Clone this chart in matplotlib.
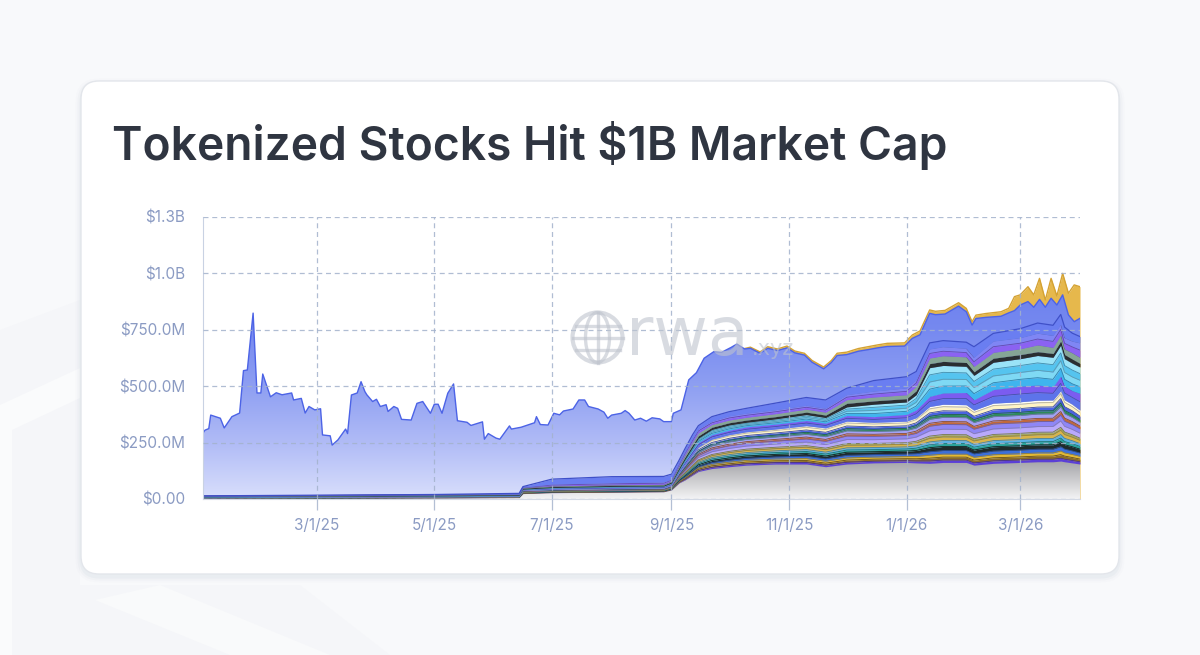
import numpy as np
import pandas as pd
import matplotlib
matplotlib.use("Agg")
import matplotlib.pyplot as plt
import matplotlib.dates as mdates
import matplotlib.colors as mcolors
from matplotlib.patches import FancyBboxPatch, Polygon, Circle, Ellipse
from matplotlib.colors import LinearSegmentedColormap

# ---- data (values in $M, x = days since 2025-01-01) ----
title_text = "Tokenized Stocks Hit $1B Market Cap"
start_date = "2025-01-01"
end_day = 455

y_ticks = [0, 250, 500, 750, 1000, 1250]
y_tick_labels = ["$0.00", "$250.0M", "$500.0M", "$750.0M", "$1.0B", "$1.3B"]
x_tick_dates = ["2025-03-01", "2025-05-01", "2025-07-01", "2025-09-01",
                "2025-11-01", "2026-01-01", "2026-03-01"]
x_tick_labels = ["3/1/25", "5/1/25", "7/1/25", "9/1/25", "11/1/25", "1/1/26", "3/1/26"]

# top of the large blue series
main_days = [0, 1, 3, 4, 9, 11, 15, 19, 21, 23, 26, 28, 30, 31, 35, 38, 41, 46, 47, 51,
             53, 55, 58, 61, 62, 66, 67, 70, 74, 75, 77, 80, 82, 84, 85, 88, 90, 92, 95, 96,
             99, 101, 103, 108, 111, 114, 118, 120, 122, 124, 127, 130, 132, 137, 139, 145,
             146, 148, 152, 154, 159, 160, 165, 172, 173, 175, 179, 182, 185, 187, 192, 195,
             198, 200, 205, 208, 210, 212, 217, 219, 221, 224, 227, 230, 233, 237, 239, 243,
             244, 248, 252, 256, 260, 265, 269, 274, 277, 281, 284, 289, 293, 298, 303, 307,
             312, 316, 322, 326, 329, 334, 340, 345, 350, 355, 364, 368, 372, 377, 380, 385,
             392, 396, 399, 401, 406, 414, 418, 421, 424, 428, 431, 434, 437, 440, 443, 446,
             449, 452, 455]
main_vals = [292, 305, 312, 372, 358, 315, 365, 381, 569, 572, 824, 470, 470, 554, 453, 471,
             462, 470, 439, 446, 381, 410, 395, 400, 284, 280, 239, 262, 310, 290, 461, 470,
             520, 476, 462, 432, 442, 410, 418, 388, 410, 402, 353, 350, 424, 432, 380, 420,
             420, 380, 469, 510, 347, 340, 326, 342, 265, 290, 270, 265, 324, 310, 318, 338,
             365, 330, 328, 380, 373, 390, 399, 439, 439, 410, 399, 385, 358, 372, 380, 392,
             380, 350, 358, 345, 360, 355, 343, 343, 380, 395, 528, 560, 624, 653, 650, 672,
             687, 665, 668, 646, 668, 658, 670, 648, 638, 606, 577, 605, 636, 640, 655, 662,
             670, 676, 678, 712, 728, 823, 817, 820, 855, 830, 771, 800, 805, 810, 825, 835,
             860, 875, 850, 885, 850, 890, 860, 905, 816, 786, 801]

# top of the gold series (total)
gold_days = [281, 284, 289, 293, 298, 303, 307, 312, 316, 322, 326, 329, 334, 340, 345, 350,
             355, 364, 368, 372, 377, 380, 385, 392, 396, 399, 401, 406, 414, 418, 421, 424,
             428, 431, 434, 437, 440, 443, 446, 449, 452, 455]
gold_vals = [667, 673, 652, 675, 665, 678, 656, 646, 614, 585, 614, 646, 651, 667, 675, 683,
             690, 692, 727, 745, 838, 832, 836, 870, 845, 786, 815, 822, 830, 845, 897, 905,
             941, 905, 978, 882, 978, 900, 1000, 912, 949, 941]

# cumulative tops of the smaller tokens
lower_days = [0, 59, 120, 164, 166, 181, 212, 239, 243, 247, 250, 254, 257, 264, 273, 282,
              297, 313, 323, 334, 348, 365, 370, 377, 384, 396, 400, 410, 424, 433, 441, 445,
              447, 451, 455]
grey_top = [3, 4, 5, 6, 24, 28, 30, 32, 40, 71, 84, 106, 122, 135, 143, 150, 155, 155, 143,
            155, 160, 162, 160, 158, 162, 162, 150, 158, 162, 165, 165, 168, 165, 160, 155]
stripes_top = [6, 8, 10, 12, 38, 42, 46, 48, 60, 115, 150, 195, 230, 265, 285, 298, 310, 325,
               315, 345, 340, 345, 360, 410, 420, 418, 394, 425, 431, 438, 439, 480, 440, 420, 394]
purple_top = [8, 10, 12, 14, 42, 48, 52, 55, 68, 125, 165, 215, 250, 285, 305, 320, 332, 348,
              336, 370, 365, 375, 395, 455, 470, 472, 440, 485, 500, 505, 498, 545, 500, 480, 468]
cyan_top = [10, 12, 14, 17, 44, 51, 56, 58, 71, 132, 176, 230, 270, 308, 328, 340, 355, 374,
            361, 408, 420, 430, 462, 582, 592, 588, 548, 606, 622, 636, 628, 682, 622, 602, 585]
black_top = [12, 14, 17, 20, 48, 55, 60, 62, 76, 140, 185, 240, 280, 318, 338, 350, 365, 385,
             372, 424, 435, 445, 480, 600, 610, 605, 564, 624, 640, 653, 645, 700, 640, 620, 601]
sage_top = [12, 15, 18, 21, 50, 58, 63, 65, 80, 148, 195, 252, 293, 330, 350, 362, 378, 398,
            385, 440, 452, 462, 500, 625, 635, 630, 588, 650, 666, 683, 672, 728, 665, 648, 628]
violet_top = [13, 16, 19, 22, 52, 66, 72, 75, 88, 160, 208, 268, 310, 345, 368, 380, 395, 415,
              402, 462, 478, 492, 528, 665, 675, 668, 628, 700, 715, 735, 725, 775, 715, 700, 692]
line_top = [14, 17, 20, 25, 55, 88, 99, 100, 110, 172, 222, 285, 325, 365, 387, 402, 425, 450,
            439, 491, 525, 542, 565, 692, 702, 695, 675, 734, 755, 780, 770, 818, 762, 735, 720]

# many small tokens inside the striped band (bottom -> top) and their rough shares
stripe_colors = ["#5b3fd6", "#8b6b25", "#e2b934", "#3a6fdc", "#1f2b2b", "#2aa39a", "#5ab2e6",
                 "#d9b44a", "#a3a95f", "#b9a9fb", "#8e86f6", "#c2693a", "#a3a0f5", "#2e8a5a",
                 "#4b63e2", "#fff4c4", "#fdfdf6"]
stripe_share = [4, 5, 5, 6, 7, 5, 5, 6, 4, 9, 8, 5, 7, 5, 6, 7, 4]
purple_colors = ["#5d74ea", "#7b5cf0"]
purple_share = [1, 1]
cyan_colors = ["#3fb5ee", "#7fd9f4", "#55c4ef", "#9ae3f7"]
cyan_share = [1, 1, 1, 1]
violet_colors = ["#8b62f2", "#7f86f4"]
violet_share = [1, 1]

# ---- helpers ----
W, H = 1200, 655
t0 = pd.Timestamp(start_date)


def to_num(days):
    return mdates.date2num(t0 + pd.to_timedelta(np.asarray(days), unit="D"))


def darker(c, f=0.72):
    r, g, b = mcolors.to_rgb(c)
    return (r * f, g * f, b * f)


def gradient_fill(ax, x, y, cmap, vmax, z):
    verts = np.column_stack([np.r_[x, x[-1], x[0]], np.r_[y, 0, 0]])
    clip = Polygon(verts, closed=True, fc="none", ec="none", transform=ax.transData)
    ax.add_patch(clip)
    grad = np.linspace(0, 1, 256).reshape(-1, 1)
    im = ax.imshow(grad, cmap=cmap, aspect="auto", origin="lower",
                   extent=[x[0], x[-1], 0, vmax], zorder=z, interpolation="bilinear")
    im.set_clip_path(clip)


def split_band(ax, x, lo, hi, colors, shares, z):
    lo = np.asarray(lo, float)
    hi = np.asarray(hi, float)
    fr = np.cumsum([0] + list(shares)) / float(sum(shares))
    for i, c in enumerate(colors):
        a = lo + (hi - lo) * fr[i]
        b = lo + (hi - lo) * fr[i + 1]
        ax.fill_between(x, a, b, color=c, lw=0, zorder=z)
        ax.plot(x, b, color=darker(c), lw=0.6, zorder=z + 0.01)


fig = plt.figure(figsize=(12, 6.55), dpi=100)
fig.patch.set_facecolor("#f8f9fb")

# ---- background + card ----
bg = fig.add_axes([0, 0, 1, 1], zorder=0)
bg.set_xlim(0, W)
bg.set_ylim(H, 0)
bg.axis("off")
bg.add_patch(Polygon([(0, 330), (80, 300), (80, 655), (0, 655)], fc="#f5f6f9", ec="none"))
bg.add_patch(Polygon([(0, 405), (80, 368), (80, 398), (12, 430), (12, 655), (0, 655)],
                     fc="#fafbfc", ec="none"))
bg.add_patch(Polygon([(30, 585), (300, 585), (390, 655), (30, 655)], fc="#f5f6f9", ec="none"))
bg.add_patch(Polygon([(95, 600), (160, 585), (330, 655), (230, 655)], fc="#f9fafb", ec="none"))
for i, a in enumerate([0.05, 0.035, 0.02]):
    p = 1.5 + i * 2
    bg.add_patch(FancyBboxPatch((81 - p, 81 - p + 3), 1038 + 2 * p, 493 + 2 * p,
                                boxstyle="round,pad=0,rounding_size=%g" % (18 + p),
                                fc="#7d8aa3", ec="none", alpha=a))
bg.add_patch(FancyBboxPatch((81, 81), 1038, 493, boxstyle="round,pad=0,rounding_size=18",
                            fc="white", ec="#e3e6eb", lw=1))

title = bg.text(112, 160, title_text, fontsize=36, fontweight="semibold", family="Inter",
                color="#2f3541", va="baseline", ha="left")
fig.canvas.draw()
tw = title.get_window_extent().width
title.set_fontsize(36 * 835.0 / tw)

# ---- chart ----
ax = fig.add_axes([203 / W, 1 - 499 / H, (1080 - 203) / W, (499 - 217) / H], zorder=1)
ax.patch.set_alpha(0)

xm = to_num(main_days)
xg = to_num(gold_days)
xl = to_num(lower_days)

ax.fill_between(xg, 0, gold_vals, color="#e6b84c", lw=0, zorder=1)
ax.plot(xg, gold_vals, color="#d4a233", lw=1.0, zorder=1.05)

main_cmap = LinearSegmentedColormap.from_list(
    "main", [(0, "#d9dffc"), (0.2, "#b0bbf6"), (0.4, "#8e9ff2"), (0.6, "#7689f0"), (1, "#5e74ea")])
gradient_fill(ax, xm, np.asarray(main_vals, float), main_cmap, 1250, 1.1)
ax.plot(xm, main_vals, color="#4c63e6", lw=1.0, zorder=1.2)

grey_cmap = LinearSegmentedColormap.from_list("grey", ["#f4f4f5", "#a2a2a6"])
gradient_fill(ax, xl, np.asarray(grey_top, float), grey_cmap, 172, 1.3)

split_band(ax, xl, grey_top, stripes_top, stripe_colors, stripe_share, 1.4)
split_band(ax, xl, stripes_top, purple_top, purple_colors, purple_share, 1.5)
split_band(ax, xl, purple_top, cyan_top, cyan_colors, cyan_share, 1.6)
split_band(ax, xl, cyan_top, black_top, ["#2a2e31"], [1], 1.7)
split_band(ax, xl, black_top, sage_top, ["#86a596"], [1], 1.8)
split_band(ax, xl, sage_top, violet_top, violet_colors, violet_share, 1.9)
ax.fill_between(xl, violet_top, line_top, color="#6a7ef1", lw=0, zorder=2.0)
ax.plot(xl, line_top, color="#3f50c8", lw=0.9, zorder=2.05)

# axes styling
grid_c = "#a3b2cc"
ax.set_yticks(y_ticks)
ax.set_yticklabels(y_tick_labels)
xt = mdates.date2num(pd.to_datetime(x_tick_dates))
ax.set_xticks(xt)
ax.set_xticklabels(x_tick_labels)
ax.set_xlim(to_num([0])[0], to_num([end_day])[0])
ax.set_ylim(0, 1250)
ax.set_axisbelow(False)
ax.grid(True, color=grid_c, lw=0.9, linestyle=(0, (4, 3)), alpha=0.85, zorder=3)
for s in ["top", "right"]:
    ax.spines[s].set_visible(False)
ax.spines["left"].set_color("#c9d2e3")
ax.spines["bottom"].set_color("#d3d9e5")
ax.tick_params(axis="y", length=0, pad=13, labelsize=11, labelcolor="#8b9bc3")
ax.tick_params(axis="x", length=8, width=0.9, color="#b3bfd4", pad=6, labelsize=11,
               labelcolor="#8b9bc3")
for lab in ax.get_xticklabels() + ax.get_yticklabels():
    lab.set_family("Inter")

# ---- watermark ----
ov = fig.add_axes([0, 0, 1, 1], zorder=3)
ov.set_xlim(0, W)
ov.set_ylim(H, 0)
ov.axis("off")
wm = "#bfc4ce"
wa = 0.6
gx, gy, gr = 597.5, 337.5, 25
ov.add_patch(Circle((gx, gy), gr, fill=False, ec=wm, lw=3.0, alpha=wa))
ov.add_patch(Ellipse((gx, gy), 24, 2 * gr, fill=False, ec=wm, lw=2.4, alpha=wa))
ov.plot([gx, gx], [gy - gr, gy + gr], color=wm, lw=2.4, alpha=wa)
ov.plot([gx - gr, gx + gr], [gy, gy], color=wm, lw=2.4, alpha=wa)
ov.plot([gx - 22, gx + 22], [gy - 12, gy - 12], color=wm, lw=2.4, alpha=wa)
ov.plot([gx - 22, gx + 22], [gy + 12, gy + 12], color=wm, lw=2.4, alpha=wa)
ov.text(626, 355, "rwa", fontsize=48, color=wm, alpha=wa, va="baseline", ha="left",
        family="DejaVu Sans")
ov.text(752, 355, ".xyz", fontsize=15, color=wm, alpha=wa, va="baseline", ha="left",
        family="DejaVu Sans")

fig.savefig("out.png", dpi=100, facecolor=fig.get_facecolor())
